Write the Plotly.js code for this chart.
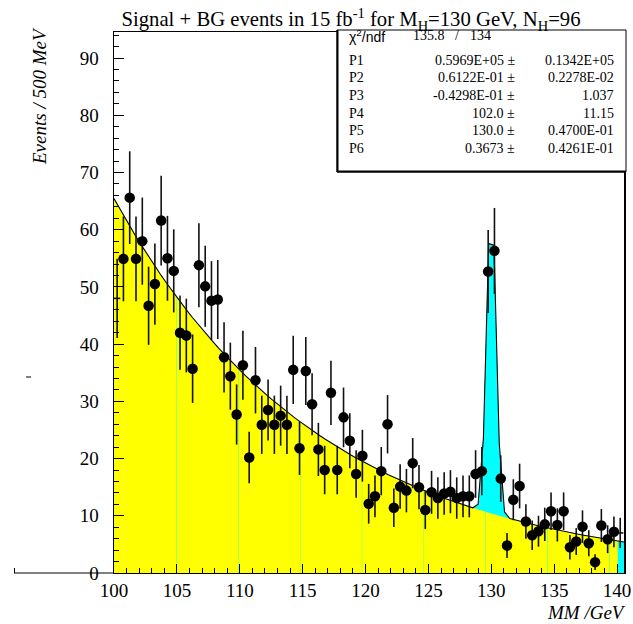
<!DOCTYPE html>
<html>
<head>
<meta charset="utf-8">
<script src="https://cdn.plot.ly/plotly-3.0.1.min.js"></script>
<style>
  html, body { margin: 0; padding: 0; background: #fff; }
  #chart { width: 633px; height: 624px; }
</style>
</head>
<body>
<div id="chart"></div>
<script>
// Missing-mass spectrum, 0.5 GeV bins starting at 100 GeV
const BIN_LOW = 100.0;
const BIN_WIDTH = 0.5;
const counts = [
  48.0, 54.9, 65.6, 54.9, 58.0, 46.7, 50.5, 61.6, 55.0, 52.8,
  42.0, 41.5, 35.7, 53.8, 50.1, 47.6, 47.8, 37.7, 34.4, 27.7,
  36.3, 20.2, 33.7, 25.9, 28.5, 25.9, 27.5, 25.9, 35.5, 21.8,
  35.3, 29.5, 21.6, 18.0, 31.5, 18.0, 27.2, 23.1, 17.3, 20.5,
  12.1, 13.4, 17.8, 26.0, 11.4, 15.1, 14.4, 19.2, 15.0, 11.0,
  14.1, 13.1, 13.9, 14.2, 13.1, 13.4, 13.4, 17.3, 17.8, 52.7,
  56.3, 16.5,  4.8, 12.8, 15.2,  9.0,  6.6,  7.3,  8.5, 10.8,
   8.4, 10.8,  4.5,  5.5,  8.1,  5.2,  1.9,  8.3,  5.9,  7.2,
   7.0
];

// Fit result: exponential background + gaussian signal
const parNames  = ['P1', 'P2', 'P3', 'P4', 'P5', 'P6'];
const parValues = ['0.5969E+05', '0.6122E-01', '-0.4298E-01', '102.0', '130.0', '0.3673'];
const parErrors = ['0.1342E+05', '0.2278E-02', '1.037', '11.15', '0.4700E-01', '0.4261E-01'];
const chi2 = '135.8';
const ndf = '134';

const titleText = 'Signal + BG events in 15 fb<sup>-1</sup> for M<sub>H</sub>=130 GeV, N<sub>H</sub>=96';
const yTitle = 'Events / 500 MeV';
const xTitle = 'MM /GeV';

// ---- frame geometry ----
const W = 633, H = 624;
const M = { l: 114, r: 9, t: 32, b: 51 };
const X_MIN = 100, X_MAX = 140.55;
const Y_MIN = 0, Y_MAX = 94.55;
const plotW = W - M.l - M.r, plotH = H - M.t - M.b;
const px = p => (p - M.l) / plotW;          // pixel column -> paper x
const py = p => (H - M.b - p) / plotH;      // pixel row -> paper y

// ---- fit model ----
const P = parValues.map(parseFloat);
const bg  = x => BIN_WIDTH * P[0] * Math.exp(-P[1] * x) + P[2];
const sig = x => BIN_WIDTH * P[3] / (Math.sqrt(2 * Math.PI) * P[5]) *
                 Math.exp(-0.5 * Math.pow((x - P[4]) / P[5], 2));
const total = x => bg(x) + sig(x);

// sampling grid for drawing the function
const STEP = 0.42;
let start = P[4] - STEP / 2;
while (start - STEP > X_MIN) start -= STEP;
const fx = [X_MIN];
for (let x = start; x < X_MAX; x += STEP) fx.push(x);
fx.push(X_MAX);
const fTot = fx.map(total);

// background fill, painted in segments
const BG_END = 140.05;
const SEG = 4.92, SEG0 = 100.04, GAP = 0.022;
const segEdges = [X_MIN];
for (let e = SEG0 + SEG; e < BG_END; e += SEG) segEdges.push(e);
segEdges.push(BG_END);

const traces = [];
traces.push({
  x: fx, y: fTot, type: 'scatter', mode: 'lines',
  fill: 'tozeroy', fillcolor: '#00ffff',
  line: { width: 0, color: '#00ffff' }, hoverinfo: 'skip', showlegend: false
});
for (let i = 0; i < segEdges.length - 1; i++) {
  const a = segEdges[i] + (i > 0 ? GAP / 2 : 0);
  const b = segEdges[i + 1] - (i < segEdges.length - 2 ? GAP / 2 : 0);
  const xs = [a];
  fx.forEach(x => { if (x > a && x < b) xs.push(x); });
  xs.push(b);
  traces.push({
    x: xs, y: xs.map(bg), type: 'scatter', mode: 'lines',
    fill: 'tozeroy', fillcolor: '#ffff00',
    line: { width: 0, color: '#ffff00' }, hoverinfo: 'skip', showlegend: false
  });
}
traces.push({
  x: fx, y: fTot, type: 'scatter', mode: 'lines',
  line: { width: 1.1, color: '#000' }, hoverinfo: 'skip', showlegend: false
});

// data points with Poisson errors
const centers = counts.map((_, i) => BIN_LOW + BIN_WIDTH * (i + 0.5));
const errs = counts.map(v => Math.sqrt(v));
const msize = centers.map(x => (x - X_MIN < 0.35 || X_MAX - x < 0.35) ? 0 : 10.5);
traces.push({
  x: centers, y: counts, type: 'scatter', mode: 'markers',
  marker: { color: '#000', size: msize, opacity: 1, line: { width: 0 } },
  error_y: { type: 'data', array: errs, visible: true, color: '#111', thickness: 1.6, width: 0 },
  error_x: { type: 'constant', value: BIN_WIDTH / 2, visible: true, color: '#111', thickness: 1.6, width: 0 },
  showlegend: false
});

// ---- stats box ----
const serif = 'Liberation Serif, Times New Roman, serif';
const sans = 'Liberation Sans, Arial, sans-serif';
const annotations = [];
const boxL = 337, boxR = 626, boxT = 30, boxB = 172;
const rowY = [36, 60.5, 78, 95.5, 113, 130.5, 148];
const statFont = { family: serif, size: 14, color: '#000' };
const note = (text, xPix, yPix, anchor, font) => annotations.push({
  text: text, x: px(xPix), y: py(yPix), xref: 'paper', yref: 'paper',
  xanchor: anchor, yanchor: 'middle', showarrow: false, font: font
});
note('χ<sup>2</sup>/ndf', 347, rowY[0], 'left', { family: sans, size: 14, color: '#000' });
note(chi2, 411, rowY[0], 'left', statFont);
note('/', 457, rowY[0], 'center', statFont);
note(ndf, 468, rowY[0], 'left', statFont);
parNames.forEach((n, i) => {
  note(n, 347, rowY[i + 1], 'left', statFont);
  note(parValues[i] + ' ±', 517, rowY[i + 1], 'right', statFont);
  note(parErrors[i], 616, rowY[i + 1], 'right', statFont);
});

// axis titles
annotations.push({ text: '<i>' + yTitle + '</i>', x: px(39), y: py(96), xref: 'paper', yref: 'paper',
  xanchor: 'center', yanchor: 'middle', textangle: -90, showarrow: false,
  font: { family: serif, size: 19, color: '#000' } });
annotations.push({ text: '<i>' + xTitle + '</i>', x: px(628), y: py(612), xref: 'paper', yref: 'paper',
  xanchor: 'right', yanchor: 'middle', showarrow: false,
  font: { family: serif, size: 19, color: '#000' } });

const shapes = [
  { type: 'rect', xref: 'paper', yref: 'paper', x0: px(boxL), x1: px(boxR), y0: py(boxB), y1: py(boxT),
    fillcolor: '#fff', line: { color: '#000', width: 1 }, layer: 'above' },
  { type: 'line', xref: 'paper', yref: 'paper', x0: px(boxL + 0.5), x1: px(boxL + 0.5), y0: py(boxB), y1: py(boxT),
    line: { color: '#000', width: 2 }, layer: 'above' },
  { type: 'line', xref: 'paper', yref: 'paper', x0: px(boxL), x1: px(boxR), y0: py(boxB - 0.5), y1: py(boxB - 0.5),
    line: { color: '#000', width: 2 }, layer: 'above' },
  // short stub left of the frame on the baseline
  { type: 'line', xref: 'paper', yref: 'paper', x0: px(14), x1: px(M.l), y0: py(573), y1: py(573),
    line: { color: '#000', width: 1 }, layer: 'above' },
  { type: 'line', xref: 'paper', yref: 'paper', x0: px(14.5), x1: px(14.5), y0: py(573), y1: py(568),
    line: { color: '#000', width: 1 }, layer: 'above' },
  { type: 'line', xref: 'paper', yref: 'paper', x0: px(26), x1: px(31), y0: py(377), y1: py(377),
    line: { color: '#000', width: 1 }, layer: 'above' }
];

const layout = {
  width: W, height: H,
  margin: M,
  paper_bgcolor: '#fff', plot_bgcolor: '#fff',
  showlegend: false,
  title: { text: titleText, font: { family: serif, size: 20.7, color: '#000' },
           xref: 'container', yref: 'container', x: 351 / W, y: 1 - 19 / H,
           xanchor: 'center', yanchor: 'middle' },
  xaxis: {
    range: [X_MIN, X_MAX], tick0: 100, dtick: 5,
    ticks: 'inside', ticklen: 9, tickwidth: 1, tickcolor: '#000',
    minor: { dtick: 1, ticks: 'inside', ticklen: 5, tickwidth: 1, tickcolor: '#000', showgrid: false },
    showline: true, linecolor: '#000', linewidth: 1, mirror: true,
    showgrid: false, zeroline: false, ticklabelstandoff: 0,
    tickfont: { family: serif, size: 19, color: '#000' }
  },
  yaxis: {
    range: [Y_MIN, Y_MAX], tick0: 0, dtick: 10,
    ticks: 'inside', ticklen: 10, tickwidth: 1, tickcolor: '#000',
    minor: { dtick: 2, ticks: 'inside', ticklen: 5, tickwidth: 1, tickcolor: '#000', showgrid: false },
    showline: true, linecolor: '#000', linewidth: 1.5, mirror: true,
    showgrid: false, zeroline: false, ticklabelstandoff: 10,
    tickfont: { family: serif, size: 19, color: '#000' }
  },
  annotations: annotations,
  shapes: shapes
};

Plotly.newPlot('chart', traces, layout, { staticPlot: true, displayModeBar: false });
</script>
</body>
</html>
